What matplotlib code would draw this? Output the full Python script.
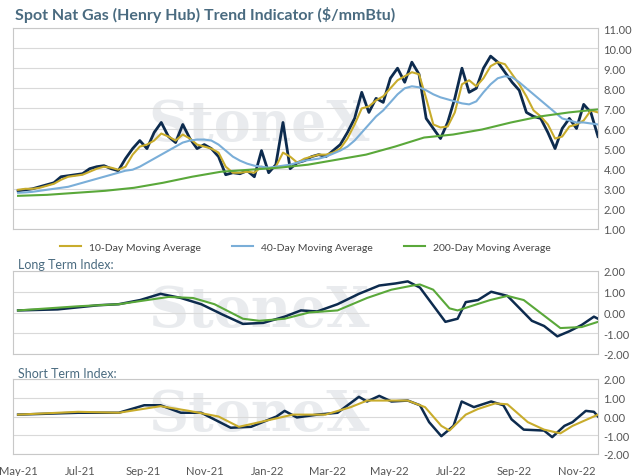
import numpy as np
import pandas as pd
import matplotlib
matplotlib.use('Agg')
import matplotlib.pyplot as plt
import matplotlib.dates as mdates

plt.rcParams['font.family'] = ['Lato', 'DejaVu Sans']

start = pd.Timestamp('2021-05-01')

# top panel: weekly readings ($/mmBtu)
spot = [2.9, 2.95, 3.0, 3.1, 3.2, 3.3, 3.6, 3.65, 3.7, 3.75, 4.0, 4.1, 4.15, 4.0, 3.9, 4.5,
        5.0, 5.4, 5.0, 5.8, 6.3, 5.6, 5.3, 6.2, 5.5, 5.0, 5.2, 5.0, 4.6, 3.7, 3.8, 3.75,
        3.9, 3.6, 4.9, 3.8, 4.2, 6.3, 4.0, 4.3, 4.4, 4.6, 4.7, 4.6, 4.9, 5.2, 5.8, 6.5,
        7.8, 6.8, 7.5, 7.3, 8.5, 9.0, 8.3, 9.3, 8.7, 6.5, 6.0, 5.5, 6.3, 7.5, 9.0, 7.8,
        8.0, 9.0, 9.6, 9.3, 8.8, 8.3, 7.9, 6.8, 6.6, 6.5, 5.8, 5.0, 6.0, 6.5, 6.0, 7.2,
        6.8, 5.6]
ma10 = [2.95, 3.0, 3.0, 3.05, 3.15, 3.25, 3.45, 3.6, 3.65, 3.7, 3.85, 4.0, 4.1, 4.05, 3.95, 4.1,
        4.7, 5.1, 5.2, 5.4, 5.75, 5.6, 5.4, 5.7, 5.5, 5.2, 5.1, 5.0, 4.8, 4.1, 3.8, 3.8,
        3.85, 3.8, 4.1, 4.0, 4.1, 4.8, 4.6, 4.3, 4.5, 4.6, 4.7, 4.7, 4.8, 5.0, 5.5, 6.2,
        7.0, 7.1, 7.4, 7.6, 8.0, 8.4, 8.6, 8.8, 8.7, 7.5, 6.2, 6.05, 6.1, 6.8, 8.2, 8.4,
        8.1, 8.5, 9.1, 9.3, 9.2, 8.7, 8.2, 7.6, 6.9, 6.6, 6.2, 5.5, 5.6, 6.1, 6.2, 6.4,
        6.9, 6.8]
ma40 = [2.8, 2.82, 2.85, 2.9, 2.95, 3.0, 3.05, 3.1, 3.2, 3.3, 3.4, 3.5, 3.6, 3.7, 3.8, 3.9,
        3.95, 4.1, 4.3, 4.5, 4.7, 4.9, 5.1, 5.3, 5.4, 5.45, 5.45, 5.4, 5.2, 4.9, 4.6, 4.4,
        4.25, 4.15, 4.1, 4.05, 4.1, 4.15, 4.2, 4.3, 4.4, 4.45, 4.5, 4.6, 4.75, 4.9, 5.1, 5.4,
        5.8, 6.2, 6.6, 6.9, 7.3, 7.7, 8.0, 8.1, 8.05, 7.9, 7.7, 7.55, 7.45, 7.35, 7.25, 7.2,
        7.35, 7.8, 8.2, 8.5, 8.6, 8.55, 8.3, 8.0, 7.7, 7.4, 7.1, 6.8, 6.5, 6.4, 6.3, 6.3,
        6.25, 6.2]
ma200 = [2.65, 2.7, 2.8, 2.9, 3.05, 3.3, 3.6, 3.85, 3.95, 4.05, 4.2, 4.45, 4.7, 5.1, 5.55,
         5.7, 5.95, 6.3, 6.6, 6.8, 6.95]

# index panels: (day offset from 2021-05-01, value)
long_day = [0, 39, 79, 99, 120, 140, 160, 180, 201, 221, 241, 262, 278, 294, 314, 335, 355, 371,
            383, 395, 420, 432, 440, 452, 465, 481, 493, 505, 517, 530, 542, 554, 566, 570]
long_blue = [0.1, 0.15, 0.35, 0.4, 0.6, 0.9, 0.7, 0.4, -0.1, -0.55, -0.5, -0.2, 0.1, 0.05,
             0.4, 0.9, 1.3, 1.4, 1.5, 1.2, -0.45, -0.3, 0.5, 0.6, 1.0, 0.8, 0.2, -0.4,
             -0.65, -1.15, -0.9, -0.6, -0.2, -0.3]
long_g_day = [0, 59, 99, 148, 172, 193, 221, 237, 262, 286, 314, 343, 367, 388, 395, 408,
              424, 432, 464, 481, 497, 513, 533, 554, 570]
long_green = [0.1, 0.3, 0.4, 0.75, 0.7, 0.4, -0.3, -0.4, -0.3, 0.0, 0.1, 0.7, 1.1, 1.3, 1.35,
              1.1, 0.2, 0.1, 0.6, 0.8, 0.6, 0.0, -0.75, -0.7, -0.45]
short_day = [0, 59, 99, 124, 140, 160, 180, 209, 229, 254, 262, 274, 294, 314, 335, 343, 355,
             367, 383, 395, 404, 416, 428, 436, 448, 465, 477, 485, 497, 517, 525, 537, 545,
             558, 566, 570]
short_blue = [0.1, 0.2, 0.2, 0.6, 0.6, 0.2, 0.2, -0.6, -0.55, 0.0, 0.3, -0.05, 0.1, 0.2, 1.05,
              0.8, 1.1, 0.8, 0.85, 0.6, -0.3, -1.05, -0.5, 0.8, 0.5, 0.8, 0.6, -0.15, -0.7,
              -0.75, -1.1, -0.5, -0.3, 0.3, 0.25, 0.0]
short_y_day = [0, 59, 99, 140, 168, 197, 217, 254, 270, 302, 327, 343, 383, 400, 416, 424, 440,
               452, 469, 481, 501, 517, 533, 545, 570]
short_yellow = [0.1, 0.25, 0.2, 0.55, 0.3, 0.0, -0.55, -0.1, 0.1, 0.1, 0.5, 0.85, 0.85, 0.5,
                -0.5, -0.75, 0.1, 0.4, 0.7, 0.65, -0.3, -0.7, -0.9, -0.5, 0.1]

navy = '#0d2b4e'
gold = '#c8ac2c'
lblue = '#7aaed8'
green = '#5aa83a'
slate = '#4a6b80'
end_day = 570


def weekly(vals):
    return start + pd.to_timedelta(np.linspace(0, end_day, len(vals)), unit='D')


def days(d):
    return start + pd.to_timedelta(np.array(d), unit='D')


fig = plt.figure(figsize=(6.42, 4.77), dpi=100)
W, H = 642, 477


def mk(top, bottom):
    return fig.add_axes([13 / W, 1 - bottom / H, 585 / W, (bottom - top) / H])


ax1 = mk(29, 230)
ax2 = mk(272, 355)
ax3 = mk(380, 455)

for ax in (ax1, ax2, ax3):
    for s in ax.spines.values():
        s.set_color('#c8c8c8')
    ax.yaxis.tick_right()
    ax.tick_params(axis='y', length=0, labelsize=8, colors='#555555', pad=4)
    ax.grid(axis='y', color='#d9d9d9', linewidth=0.8)
    ax.set_axisbelow(True)
    ax.set_xlim(start - pd.Timedelta(days=5), start + pd.Timedelta(days=end_day))
    ax.text(0.42, 0.52, 'StoneX', transform=ax.transAxes, fontsize=40, family='DejaVu Serif',
            color='#c0c8d0', alpha=0.35, ha='center', va='center', fontweight='bold', zorder=0)

ax1.plot(weekly(spot), spot, color=navy, lw=2)
ax1.plot(weekly(ma10), ma10, color=gold, lw=1.5, label='10-Day Moving Average')
ax1.plot(weekly(ma40), ma40, color=lblue, lw=1.5, label='40-Day Moving Average')
ax1.plot(weekly(ma200), ma200, color=green, lw=1.5, label='200-Day Moving Average')
ax1.set_ylim(1, 11)
ax1.set_yticks(np.arange(1, 12))
ax1.set_yticklabels([f'{v:.2f}' for v in range(1, 12)])
ax1.tick_params(axis='x', bottom=False, labelbottom=False)
ax1.legend(loc='upper center', bbox_to_anchor=(0.5, -0.02), ncol=3, frameon=False,
           fontsize=7.5, handlelength=2, columnspacing=3, labelcolor='#444444')

ax2.plot(days(long_day), long_blue, color=navy, lw=1.8)
ax2.plot(days(long_g_day), long_green, color=green, lw=1.5)
ax3.plot(days(short_day), short_blue, color=navy, lw=1.8)
ax3.plot(days(short_y_day), short_yellow, color=gold, lw=1.5)
for ax in (ax2, ax3):
    ax.set_ylim(-2, 2)
    ax.set_yticks([-2, -1, 0, 1, 2])
    ax.set_yticklabels(['-2.00', '-1.00', '0.00', '1.00', '2.00'])
ax2.tick_params(axis='x', bottom=False, labelbottom=False)

ax3.xaxis.set_major_locator(mdates.MonthLocator(bymonth=[1, 3, 5, 7, 9, 11]))
ax3.xaxis.set_major_formatter(mdates.DateFormatter('%b-%y'))
ax3.tick_params(axis='x', length=0, labelsize=8, colors='#555555', pad=8)

fig.text(15 / W, 1 - 15 / H, 'Spot Nat Gas (Henry Hub) Trend Indicator ($/mmBtu)',
         fontsize=11.5, fontweight='bold', color=slate, va='center')
fig.text(18 / W, 1 - 265 / H, 'Long Term Index:', fontsize=9, color=slate, va='center')
fig.text(18 / W, 1 - 374 / H, 'Short Term Index:', fontsize=9, color=slate, va='center')

fig.savefig('out.png', dpi=100)
